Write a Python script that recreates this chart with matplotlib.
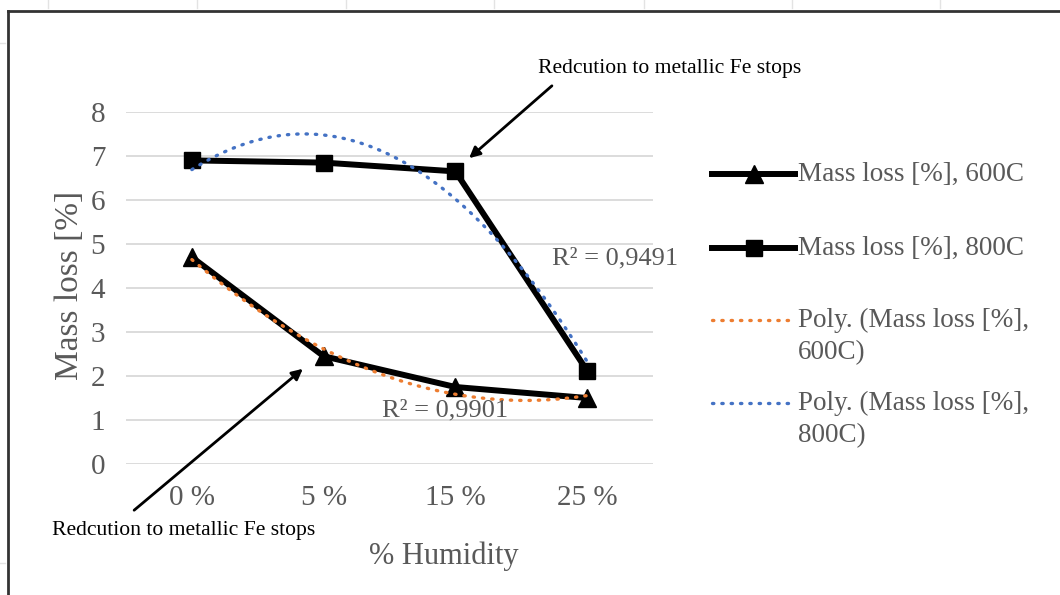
import numpy as np
import matplotlib
matplotlib.use("Agg")
import matplotlib.pyplot as plt
from matplotlib.lines import Line2D
from matplotlib.patches import FancyArrowPatch

plt.rcParams['font.family'] = ['Liberation Serif', 'DejaVu Serif']

# ---- data -------------------------------------------------------------
humidity = ["0 %", "5 %", "15 %", "25 %"]
loss_600 = [4.70, 2.45, 1.75, 1.50]
loss_800 = [6.90, 6.85, 6.65, 2.12]
r2_600_text = "R² = 0,9901"
r2_800_text = "R² = 0,9491"
series_labels = ["Mass loss [%], 600C", "Mass loss [%], 800C",
                 "Poly. (Mass loss [%],\n600C)", "Poly. (Mass loss [%],\n800C)"]
y_ticks = [0, 1, 2, 3, 4, 5, 6, 7, 8]
note_text = "Redcution to metallic Fe stops"

# ---- figure -----------------------------------------------------------
W, H = 1060, 595
fig = plt.figure(figsize=(W / 100, H / 100), dpi=100)
fig.patch.set_facecolor("white")


def fp(x, y):
    """pixel position (from top-left) -> figure fraction"""
    return (x / W, 1 - y / H)


GREY = "#595959"
GRID = "#d9d9d9"
ORANGE = "#ED7D31"
BLUE = "#4472C4"
DOTS = (0, (0.4, 2.4))

ax_l, ax_r, ax_t, ax_b = 126, 653, 112, 464
ax = fig.add_axes([ax_l / W, 1 - ax_b / H, (ax_r - ax_l) / W, (ax_b - ax_t) / H])

x = np.arange(len(humidity))
ax.set_xlim(-0.5, len(humidity) - 0.5)
ax.set_ylim(0, 8)
ax.set_yticks(y_ticks)
ax.set_xticks(x)
ax.set_xticklabels(humidity)
ax.tick_params(axis="both", length=0, labelsize=21, labelcolor=GREY)
ax.tick_params(axis="y", pad=15)
ax.tick_params(axis="x", pad=15)
for s in ax.spines.values():
    s.set_visible(False)
ax.grid(axis="y", color=GRID, linewidth=1.3)
ax.set_axisbelow(True)

# data series
ax.plot(x, loss_600, color="black", linewidth=4.3, marker="^", markersize=13,
        clip_on=False, zorder=3)
ax.plot(x, loss_800, color="black", linewidth=4.3, marker="s", markersize=12,
        clip_on=False, zorder=3)

# second-order polynomial trendlines (category positions 1..n)
xc = np.arange(1, len(humidity) + 1)
xf = np.linspace(1, len(humidity), 200)
for vals, col in ((loss_600, ORANGE), (loss_800, BLUE)):
    coef = np.polyfit(xc, vals, 2)
    ax.plot(xf - 1, np.polyval(coef, xf), color=col, linewidth=2.4,
            linestyle=DOTS, dash_capstyle="round", zorder=4, clip_on=False)

# R² labels
fig.text(*fp(615, 258), r2_800_text, color=GREY, fontsize=19,
         ha="center", va="center")
fig.text(*fp(445, 410), r2_600_text, color=GREY, fontsize=19,
         ha="center", va="center")

# axis titles
fig.text(*fp(70, 285), "Mass loss [%]", color=GREY, fontsize=24,
         rotation=90, ha="center", va="center")
fig.text(*fp(444, 556), "% Humidity", color=GREY, fontsize=22,
         ha="center", va="center")

# legend
leg_x0, leg_x1 = 712, 795
rows = [174, 248, 320, 403]
styles = [
    dict(color="black", linewidth=4.3, marker="^", markersize=13, markevery=[1]),
    dict(color="black", linewidth=4.3, marker="s", markersize=12, markevery=[1]),
    dict(color=ORANGE, linewidth=2.4, linestyle=DOTS, dash_capstyle="round"),
    dict(color=BLUE, linewidth=2.4, linestyle=DOTS, dash_capstyle="round"),
]
for yrow, st, lab in zip(rows, styles, series_labels):
    xs = [leg_x0 / W, (leg_x0 + leg_x1) / 2 / W, leg_x1 / W]
    ys = [1 - yrow / H] * 3
    fig.add_artist(Line2D(xs, ys, **st))
    for i, part in enumerate(lab.split("\n")):
        fig.text(*fp(leg_x1 + 3, yrow + 33 * i), part, color=GREY,
                 fontsize=19.5, ha="left", va="center")

# annotations
fig.text(*fp(538, 68), note_text, color="black", fontsize=15.6,
         ha="left", va="center")
fig.add_artist(FancyArrowPatch(fp(554, 84), fp(467, 160),
                               transform=fig.transFigure, arrowstyle="-|>",
                               mutation_scale=16, color="black", linewidth=2))
fig.text(*fp(52, 530), note_text, color="black", fontsize=15.6,
         ha="left", va="center")
fig.add_artist(FancyArrowPatch(fp(132, 512), fp(305, 367),
                               transform=fig.transFigure, arrowstyle="-|>",
                               mutation_scale=16, color="black", linewidth=2))

# chart frame
fig.add_artist(Line2D([8 / W, 1], [1 - 11 / H] * 2, color="#333333", linewidth=2))
fig.add_artist(Line2D([8 / W] * 2, [1 - 11 / H, 0], color="#333333", linewidth=2))
for tx in (48, 197, 346, 494, 644, 792, 940):
    fig.add_artist(Line2D([tx / W] * 2, [1, 1 - 8 / H], color="#e3e3e3", linewidth=1))
for ty in (43, 563):
    fig.add_artist(Line2D([0, 5 / W], [1 - ty / H] * 2, color="#e3e3e3", linewidth=1))

fig.savefig("out.png", dpi=100)
